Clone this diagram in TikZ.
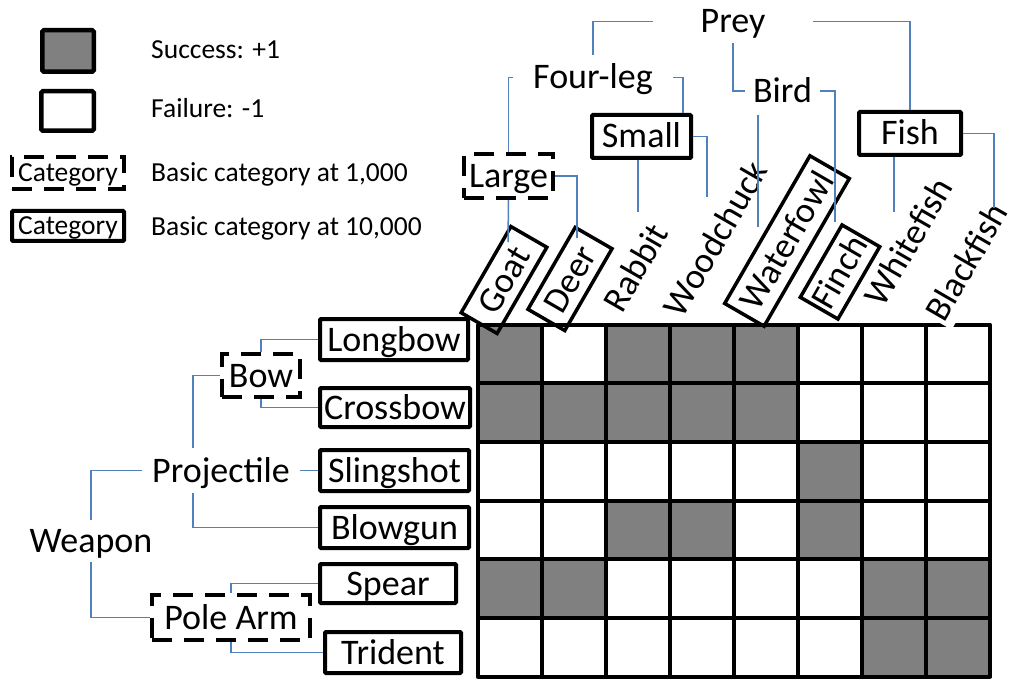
\documentclass[tikz,border=0pt]{standalone}
\usepackage{fontspec}
\setmainfont{Carlito}
\usetikzlibrary{calc}
\definecolor{linkblue}{HTML}{4F81BD}
\definecolor{cell1}{HTML}{808080}
\definecolor{cell0}{HTML}{FFFFFF}

\begin{document}
\begin{tikzpicture}[x=1pt,y=-1pt,
  every node/.style={inner sep=0pt},
  big/.style={font=\fontsize{36}{43}\selectfont, text height=30pt, text depth=7pt},
  small/.style={font=\fontsize{27.5}{33}\selectfont, text height=22pt, text depth=5pt},
  solidbox/.style={draw, line width=4pt, fill=white, rounded corners=1pt},
  dashbox/.style={draw, line width=4pt, dash pattern=on 20pt off 12pt},
  tiltbox/.style={big, rotate=60, draw, line width=3.5pt},
  tilt/.style={big, rotate=60, inner sep=4pt},
  link/.style={draw=linkblue, line width=1.5pt},
  cell/.style={draw, line width=4pt, line join=round}]
\useasboundingbox (0,0) rectangle (1010,679);

% ---------- legend ----------
\node[draw, line width=4.5pt, fill=cell1, rounded corners=1.5pt,
      minimum width=51.5, minimum height=41.5] (legwin) at (68,51) {};
\node[draw, line width=4.5pt, fill=white, rounded corners=1.5pt,
      minimum width=52.5, minimum height=39.5] (legloss) at (67.5,111) {};
\node[dashbox, small, minimum width=112, minimum height=32] (legdash) at (68,173) {Category};
\node[solidbox, small, minimum width=112, minimum height=30] (legsolid) at (68,226) {Category};
\node[small, anchor=west] (txtwin)   at (151,50)  {Success: +1};
\node[small, anchor=west] (txtloss)  at (151,109) {Failure: -1};
\node[small, anchor=west] (txtdash)  at (151,173) {Basic category at 1,000};
\node[small, anchor=west] (txtsolid) at (151,227) {Basic category at 10,000};

% ---------- outcome grid (rows: weapons, columns: prey) ----------
\foreach \rowvals [count=\r from 0] in
  {{1,0,1,1,1,0,0,0},
   {1,1,1,1,1,0,0,0},
   {0,0,0,0,0,1,0,0},
   {0,0,1,1,0,1,0,0},
   {1,1,0,0,0,0,1,1},
   {0,0,0,0,0,0,1,1}}{
  \foreach \v [count=\c from 0] in \rowvals{
    \path[cell, fill=cell\v] (478+64*\c, 324.5+58.7*\r) rectangle ++(64,58.7);
  }
}

% ---------- prey labels (tilted) ----------
\node[tiltbox, minimum width=99.5, minimum height=41.5] (goat) at (504,280) {Goat};
\node[tiltbox, minimum width=94.5, minimum height=42.5] (deer) at (570,279) {Deer};
\node[tilt] (rabbit) at (636,268) {Rabbit};
\node[tilt] (woodchuck) at (716,239) {Woodchuck};
\node[tiltbox, minimum width=170.5, minimum height=45.5] (waterfowl) at (787,241) {Waterfowl};
\node[tiltbox, minimum width=83.5, minimum height=43.5] (finch) at (840,272) {Finch};
\node[tilt] (whitefish) at (909,242) {Whitefish};
\node[tilt, inner sep=2pt, fill=white] (blackfish) at (967,262) {Blackfish};

% ---------- prey hierarchy ----------
\node[big, minimum width=160, minimum height=43] (prey) at (733,21.5) {Prey};
\node[big, minimum width=160, minimum height=45] (fourleg) at (593,77.5) {Four-leg};
\node[big, minimum width=75, minimum height=48] (bird) at (782.5,91) {Bird};
\node[big, dashbox, minimum width=89, minimum height=44] (large) at (508.5,176) {Large};
\node[big, solidbox, minimum width=99, minimum height=43] (smallprey) at (641.5,136.5) {Small};
\node[big, solidbox, minimum width=102, minimum height=43] (fish) at (910,133.5) {Fish};

% ---------- weapon hierarchy ----------
\node[big, minimum width=130, minimum height=42] (weapon) at (91,541) {Weapon};
\node[big, minimum width=158, minimum height=45] (projectile) at (221,470.5) {Projectile};
\node[big, dashbox, minimum width=78, minimum height=43] (bow) at (261,375.5) {Bow};
\node[big, dashbox, minimum width=158, minimum height=45] (polearm) at (231,617.5) {Pole Arm};
\node[big, solidbox, minimum width=148, minimum height=41] (longbow) at (394,339.5) {Longbow};
\node[big, solidbox, minimum width=150, minimum height=39] (crossbow) at (395,407.5) {Crossbow};
\node[big, solidbox, minimum width=149, minimum height=41] (slingshot) at (394.5,470.5) {Slingshot};
\node[big, solidbox, minimum width=149, minimum height=41] (blowgun) at (394.5,527.5) {Blowgun};
\node[big, solidbox, minimum width=136, minimum height=39] (spear) at (388,583.5) {Spear};
\node[big, solidbox, minimum width=136, minimum height=41] (trident) at (393,652.5) {Trident};

% ends of the prey connectors, just above each label
\coordinate (endgoat)  at (508,242);
\coordinate (enddeer)  at (577,238);
\coordinate (endrabbit) at (638,212);
\coordinate (endwood)  at (707,197);
\coordinate (endwater) at (758,227);
\coordinate (endfinch) at (835,222);
\coordinate (endwhite) at (894,212);
\coordinate (endblack) at (994,208);

% ---------- connectors: prey ----------
\draw[link] (prey.west) -| (fourleg.north);
\draw[link] (prey.east) -| (fish.north);
\draw[link] (prey.south) |- (bird.west);
\draw[link] (fourleg.west) -| (large.north);
\draw[link] (fourleg.east) -| ([xshift=-10pt]smallprey.north east);
\draw[link] (large.south) -- (endgoat);
\draw[link] (large.east) -| (enddeer);
\draw[link] (endrabbit |- smallprey.south) -- (endrabbit);
\draw[link] (smallprey.east) -| (endwood);
\draw[link] (endwater |- bird.south) -- (endwater);
\draw[link] (bird.east) -| (endfinch);
\draw[link] (endwhite |- fish.south) -- (endwhite);
\draw[link] (fish.east) -| (endblack);

% ---------- connectors: weapons ----------
\draw[link] (weapon.north) |- (projectile.west);
\draw[link] (weapon.south) |- (polearm.west);
\draw[link] ([xshift=-28pt]projectile.north) |- (bow.west);
\draw[link] (projectile.east) -- (slingshot.west);
\draw[link] ([xshift=-28pt]projectile.south) |- (blowgun.west);
\draw[link] (bow.north) |- (longbow.west);
\draw[link] (bow.south) |- (crossbow.west);
\draw[link] (polearm.north) |- (spear.west);
\draw[link] (polearm.south) |- (trident.west);
\end{tikzpicture}
\end{document}
